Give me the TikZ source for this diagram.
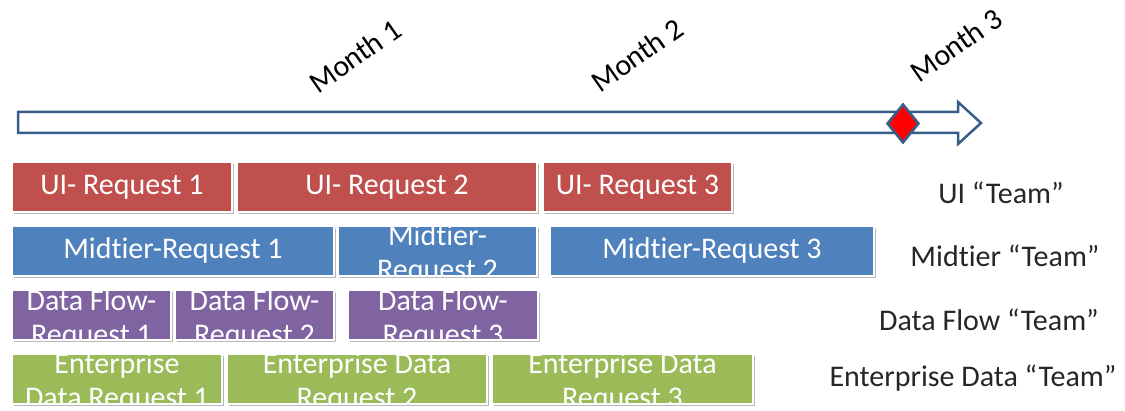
\documentclass[tikz,border=0pt]{standalone}
\usepackage{fontspec}
\setmainfont{Carlito}[Ligatures=NoCommon]
\usetikzlibrary{shapes.geometric,shadows}
\definecolor{uired}{HTML}{C0504D}
\definecolor{midblue}{HTML}{4F81BD}
\definecolor{dfpurple}{HTML}{8064A2}
\definecolor{entgreen}{HTML}{9BBB59}
\definecolor{outlineblue}{HTML}{385D8A}
\definecolor{labelc}{HTML}{262626}
\tikzset{
  lbl/.style={font=\fontsize{30}{34}\selectfont, text=labelc, inner sep=0pt},
  monthlbl/.style={font=\fontsize{30}{34}\selectfont, text=black, rotate=35, inner sep=0pt},
  taskbox/.style={draw=white, line width=1.5pt, inner sep=0pt, fill=#1,
    drop shadow={shadow xshift=2pt, shadow yshift=-2.5pt, opacity=0.28, fill=black}},
  tasktext/.style={font=\fontsize{30}{34}\selectfont, text=white, align=center, inner sep=0pt},
  timeline/.style={draw=outlineblue, line width=2.5pt, fill=white, line join=miter},
  milestone/.style={diamond, draw=outlineblue, line width=2.5pt, fill=red, inner sep=0pt,
    minimum width=32pt, minimum height=39pt},
}
% name, x1, y1, x2, y2, colour, text, text yshift
\newcommand\tasknode[8]{%
  \node[taskbox=#6, minimum width={(#4-#2)*1pt}, minimum height={(#5-#3)*1pt}]
    (#1) at ({(#2+#4)/2},{(#3+#5)/2}) {};
  \begin{scope}
    \clip (#1.south west) rectangle (#1.north east);
    \node[tasktext, yshift=#8] (#1text) at (#1.center) {#7};
  \end{scope}}
\begin{document}
\begin{tikzpicture}[x=1pt, y=-1pt]
\useasboundingbox (0,0) rectangle (1125,411);
% timeline arrow
\draw[timeline] (18,112) -- (958,112) -- (958,102) -- (981,123) -- (958,144)
  -- (958,133) -- (18,133) -- cycle;
\node[milestone] (ms) at (903,123.5) {};
% months
\node[monthlbl] (m1) at (355,56) {Month 1};
\node[monthlbl] (m2) at (637,55) {Month 2};
\node[monthlbl] (m3) at (956,45) {Month 3};
% UI row
\tasknode{ui1}{12}{162}{232}{212}{uired}{UI- Request 1}{0pt}
\tasknode{ui2}{237}{162}{537}{212}{uired}{UI- Request 2}{0pt}
\tasknode{ui3}{543}{162}{732}{212}{uired}{UI- Request 3}{0pt}
% Midtier row
\tasknode{mid1}{12}{226}{334}{276}{midblue}{Midtier-Request 1}{0pt}
\tasknode{mid2}{338}{226}{537}{276}{midblue}{Midtier-\\Request 2}{-4pt}
\tasknode{mid3}{550}{226}{874}{276}{midblue}{Midtier-Request 3}{0pt}
% Data flow row
\tasknode{df1}{12}{290}{171}{340}{dfpurple}{Data Flow-\\Request 1}{-5pt}
\tasknode{df2}{175}{290}{334}{340}{dfpurple}{Data Flow-\\Request 2}{-5pt}
\tasknode{df3}{348}{290}{538}{340}{dfpurple}{Data Flow-\\Request 3}{-5pt}
% Enterprise row
\tasknode{ent1}{12}{354}{222}{404}{entgreen}{Enterprise\\Data Request 1}{-4pt}
\tasknode{ent2}{227}{354}{487}{404}{entgreen}{Enterprise Data\\Request 2}{-4pt}
\tasknode{ent3}{492}{354}{753}{404}{entgreen}{Enterprise Data\\Request 3}{-4pt}
% team labels
\node[lbl] (tui) at (1001,193) {UI “Team”};
\node[lbl] (tmid) at (1005,256) {Midtier “Team”};
\node[lbl] (tdf) at (989,320) {Data Flow “Team”};
\node[lbl] (tent) at (973,378) {Enterprise Data “Team”};
\end{tikzpicture}
\end{document}
